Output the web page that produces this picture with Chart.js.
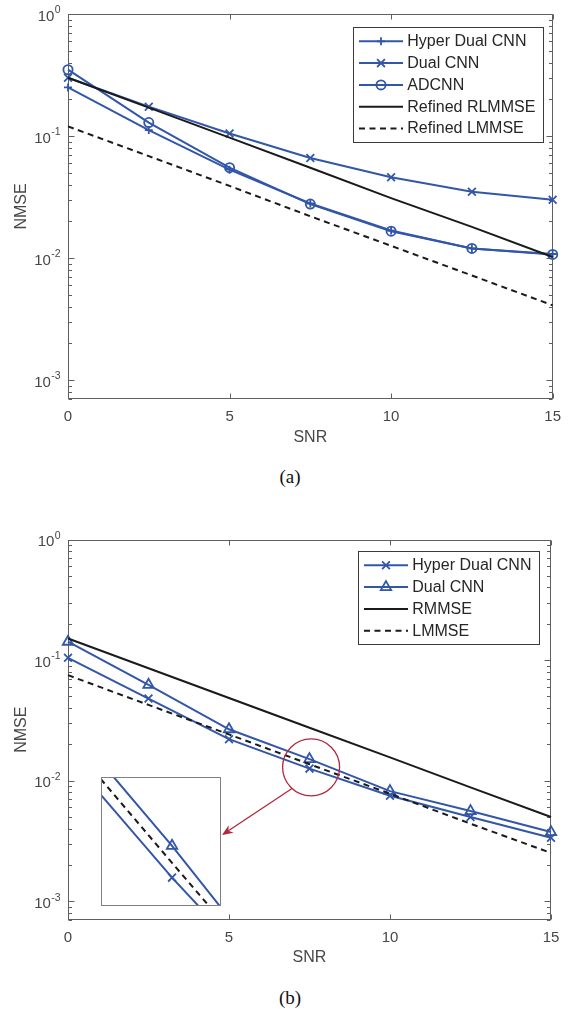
<!DOCTYPE html>
<html lang="en">
<head>
<meta charset="UTF-8">
<title>NMSE vs SNR</title>
<script src="https://cdn.jsdelivr.net/npm/chart.js@4.4.1/dist/chart.umd.min.js"></script>
<style>
    body { margin: 0; background: #fff; width: 570px; height: 1009px; position: relative; overflow: hidden; }
    .box { position: absolute; left: 0; width: 570px; height: 455px; }
    .cap { position: absolute; left: 0; width: 580px; text-align: center; line-height: 20px;
           font-family: "Liberation Serif", "Times New Roman", serif; font-size: 19px; color: #111; }
    #insetBox { position: absolute; left: 101px; top: 777px; width: 120px; height: 129px; background: #fff; }
</style>
</head>
<body>
<div class="box" style="top:0"><canvas id="chartA" width="570" height="455"></canvas></div>
<div class="cap" style="top:467px">(a)</div>
<div class="box" style="top:520px"><canvas id="chartB" width="570" height="455"></canvas></div>
<div id="insetBox"><canvas id="chartInset" width="120" height="129"></canvas></div>
<div class="cap" style="top:988px">(b)</div>

<script>
// ---- data ----
const snr = [0, 2.5, 5, 7.5, 10, 12.5, 15];
const xTicks = [0, 5, 10, 15];
const yTickExps = [0, -1, -2, -3];

// (a)
const hyperA  = [0.25, 0.112, 0.053, 0.028, 0.0168, 0.0120, 0.0108];
const dualA   = [0.30, 0.174, 0.105, 0.066, 0.046, 0.035, 0.030];
const adcnnA  = [0.35, 0.129, 0.055, 0.0277, 0.0166, 0.0120, 0.0107];
const rlmmseA = [0.30, 0.171, 0.097, 0.055, 0.031, 0.018, 0.0102];
const lmmseA  = [0.12, 0.0685, 0.039, 0.022, 0.0126, 0.0072, 0.0041];

// (b)
const hyperB = [0.1045, 0.048, 0.0221, 0.0126, 0.0075, 0.0050, 0.00337];
const dualB  = [0.142, 0.0624, 0.0267, 0.0151, 0.0082, 0.0056, 0.00375];
const rmmseB = [0.151, 0.0856, 0.0485, 0.0275, 0.0156, 0.0088, 0.0050];
const lmmseB = [0.075, 0.0425, 0.0242, 0.0137, 0.0078, 0.0044, 0.00252];

const FONT = 'Arial, "Liberation Sans", Helvetica, sans-serif';
const BLUE = '#3256a8';
const BLACK = '#1a1a1a';
const RED = '#b0283c';
const AXIS = '#5f5f5f';
const TEXT = '#474747';

Chart.defaults.font.family = FONT;

function pts(arr) {
    return snr.map((x, i) => ({x: x, y: arr[i]}));
}

function line(label, arr, color, style, r, dash) {
    return {
        label: label,
        data: pts(arr),
        borderColor: color,
        backgroundColor: color,
        borderWidth: 2,
        borderDash: dash || [],
        pointStyle: style || 'circle',
        pointRadius: r || 0,
        pointHoverRadius: r || 0,
        pointBorderWidth: 1.8,
        pointBorderColor: color,
        pointBackgroundColor: 'rgba(0,0,0,0)',
        tension: 0,
        clip: false
    };
}

function drawMarker(ctx, style, x, y, r, color, lw) {
    ctx.save();
    ctx.strokeStyle = color;
    ctx.lineWidth = lw;
    ctx.beginPath();
    if (style === 'cross') {
        ctx.moveTo(x - r, y); ctx.lineTo(x + r, y);
        ctx.moveTo(x, y - r); ctx.lineTo(x, y + r);
    } else if (style === 'crossRot') {
        const k = r * Math.SQRT1_2;
        ctx.moveTo(x - k, y - k); ctx.lineTo(x + k, y + k);
        ctx.moveTo(x + k, y - k); ctx.lineTo(x - k, y + k);
    } else if (style === 'triangle') {
        ctx.moveTo(x, y - r);
        ctx.lineTo(x + r * Math.sin(2 * Math.PI / 3), y + r / 2);
        ctx.lineTo(x - r * Math.sin(2 * Math.PI / 3), y + r / 2);
        ctx.closePath();
    } else {
        ctx.arc(x, y, r, 0, Math.PI * 2);
    }
    ctx.stroke();
    ctx.restore();
}

// box, inward ticks and 10^k labels, matlab style
const frame = {
    id: 'frame',
    beforeDatasetsDraw(chart) {
        const {ctx, chartArea: a, scales: {x, y}} = chart;
        ctx.save();
        ctx.strokeStyle = AXIS;
        ctx.lineWidth = 1;
        const L = Math.round(a.left) + 0.5, R = Math.round(a.right) - 0.5;
        const T = Math.round(a.top) + 0.5, B = Math.round(a.bottom) - 0.5;
        ctx.strokeRect(L, T, R - L, B - T);
        ctx.beginPath();
        xTicks.forEach(v => {
            const px = Math.round(x.getPixelForValue(v)) + 0.5;
            ctx.moveTo(px, B); ctx.lineTo(px, B - 5);
            ctx.moveTo(px, T); ctx.lineTo(px, T + 5);
        });
        for (let e = -4; e <= 0; e++) {
            for (let m = 1; m <= 9; m++) {
                const v = m * Math.pow(10, e);
                if (v < y.min * 0.999 || v > y.max * 1.001) continue;
                const py = Math.round(y.getPixelForValue(v)) + 0.5;
                const len = m === 1 ? 6 : 3.5;
                ctx.moveTo(L, py); ctx.lineTo(L + len, py);
                ctx.moveTo(R, py); ctx.lineTo(R - len, py);
            }
        }
        ctx.stroke();
        ctx.restore();
    },
    afterDraw(chart) {
        const {ctx, chartArea: a, scales: {y}} = chart;
        ctx.save();
        ctx.fillStyle = TEXT;
        ctx.textAlign = 'right';
        ctx.textBaseline = 'middle';
        yTickExps.forEach(e => {
            const py = y.getPixelForValue(Math.pow(10, e));
            const exp = String(e);
            ctx.font = '10.5px ' + FONT;
            const ew = ctx.measureText(exp).width;
            const right = a.left - 7.5;
            ctx.fillText(exp, right, py - 3.5);
            ctx.font = '15px ' + FONT;
            ctx.fillText('10', right - ew - 0.3, py + 2.5);
        });
        ctx.restore();
    }
};

// legend box inside the plot, top right
const boxLegend = {
    id: 'boxLegend',
    afterDraw(chart, args, opts) {
        const {ctx, chartArea: a} = chart;
        const sets = chart.data.datasets;
        ctx.save();
        ctx.font = '16px ' + FONT;
        const textW = Math.max(...sets.map(d => ctx.measureText(d.label).width));
        const padL = 5.5, sample = 44, gap = 4.3, padR = 8.5, first = 13.8, rowH = 21.8;
        const w = padL + sample + gap + textW + padR;
        const h = first * 2 + rowH * (sets.length - 1);
        const x0 = Math.round(a.right - opts.right - w) + 0.5;
        const y0 = Math.round(a.top + opts.top) + 0.5;
        ctx.fillStyle = '#fff';
        ctx.fillRect(x0, y0, w, h);
        ctx.strokeStyle = '#3a3a3a';
        ctx.lineWidth = 1;
        ctx.strokeRect(x0, y0, Math.round(w), Math.round(h));
        sets.forEach((d, i) => {
            const cy = y0 + first + i * rowH;
            ctx.strokeStyle = d.borderColor;
            ctx.lineWidth = d.borderWidth;
            ctx.setLineDash(d.borderDash);
            ctx.beginPath();
            ctx.moveTo(x0 + padL, cy);
            ctx.lineTo(x0 + padL + sample, cy);
            ctx.stroke();
            ctx.setLineDash([]);
            if (d.pointRadius > 0) {
                drawMarker(ctx, d.pointStyle, x0 + padL + sample / 2, cy, d.pointRadius, d.borderColor, d.pointBorderWidth);
            }
            ctx.fillStyle = '#262626';
            ctx.textAlign = 'left';
            ctx.textBaseline = 'middle';
            ctx.fillText(d.label, x0 + padL + sample + gap, cy + 0.5);
        });
        ctx.restore();
    }
};

// red circle + arrow pointing to the inset
const zoomMark = {
    id: 'zoomMark',
    afterDatasetsDraw(chart, args, opts) {
        if (!opts || opts.r === undefined) return;
        const {ctx, scales: {x, y}} = chart;
        const cx = x.getPixelForValue(opts.x), cy = y.getPixelForValue(opts.y);
        ctx.save();
        ctx.strokeStyle = RED;
        ctx.fillStyle = RED;
        ctx.lineWidth = 1.3;
        ctx.beginPath();
        ctx.arc(cx, cy, opts.r, 0, Math.PI * 2);
        ctx.stroke();
        const ang = opts.startAngle * Math.PI / 180;
        const sx = cx + opts.r * Math.cos(ang), sy = cy + opts.r * Math.sin(ang);
        const tx = opts.tipX, ty = opts.tipY;
        const dx = tx - sx, dy = ty - sy, len = Math.hypot(dx, dy);
        const ux = dx / len, uy = dy / len, nx = -uy, ny = ux;
        const hl = 11, hw = 4.5;
        ctx.beginPath();
        ctx.moveTo(sx, sy);
        ctx.lineTo(tx - ux * hl * 0.7, ty - uy * hl * 0.7);
        ctx.stroke();
        ctx.beginPath();
        ctx.moveTo(tx, ty);
        ctx.lineTo(tx - ux * hl + nx * hw, ty - uy * hl + ny * hw);
        ctx.lineTo(tx - ux * hl * 0.7, ty - uy * hl * 0.7);
        ctx.lineTo(tx - ux * hl - nx * hw, ty - uy * hl - ny * hw);
        ctx.closePath();
        ctx.fill();
        ctx.restore();
    }
};

function mainOptions(padTop, padRight, xHeight, legendTop, legendRight, mark) {
    return {
        responsive: false,
        animation: false,
        devicePixelRatio: 1,
        layout: {autoPadding: false, padding: {top: padTop, right: padRight, left: 0, bottom: 0}},
        scales: {
            x: {
                type: 'linear', min: 0, max: 15,
                afterBuildTicks: s => { s.ticks = xTicks.map(v => ({value: v})); },
                afterFit: s => { s.height = xHeight; },
                grid: {display: false, drawTicks: false},
                border: {display: false},
                ticks: {color: TEXT, font: {size: 15}, padding: 9, maxRotation: 0},
                title: {display: true, text: 'SNR', color: TEXT, font: {size: 16}, padding: {top: 0, bottom: 8}}
            },
            y: {
                type: 'logarithmic', min: 0.0007, max: 1,
                afterFit: s => { s.width = 68; },
                grid: {display: false},
                border: {display: false},
                ticks: {display: false},
                title: {display: true, text: 'NMSE', color: TEXT, font: {size: 16}, padding: {top: 11.5, bottom: 0}}
            }
        },
        plugins: {
            legend: {display: false},
            tooltip: {enabled: false},
            boxLegend: {top: legendTop, right: legendRight},
            zoomMark: mark || {}
        }
    };
}

function withOrder(sets) {
    sets.forEach((d, i) => { d.order = sets.length - i; });
    return sets;
}

new Chart(document.getElementById('chartA'), {
    type: 'line',
    data: {
        datasets: withOrder([
            line('Hyper Dual CNN', hyperA, BLUE, 'cross', 4),
            line('Dual CNN', dualA, BLUE, 'crossRot', 5.5),
            line('ADCNN', adcnnA, BLUE, 'circle', 4.6),
            line('Refined RLMMSE', rlmmseA, BLACK),
            line('Refined LMMSE', lmmseA, BLACK, null, 0, [6, 4.5])
        ])
    },
    options: mainOptions(14, 14, 56, 12.5, 9.5),
    plugins: [frame, boxLegend]
});

const INSET = {left: 101, top: 777, w: 120, h: 129};
const CHART_B_TOP = 520;

new Chart(document.getElementById('chartB'), {
    type: 'line',
    data: {
        datasets: withOrder([
            line('Hyper Dual CNN', hyperB, BLUE, 'crossRot', 5.5),
            line('Dual CNN', dualB, BLUE, 'triangle', 6),
            line('RMMSE', rmmseB, BLACK),
            line('LMMSE', lmmseB, BLACK, null, 0, [6, 4.5])
        ])
    },
    options: mainOptions(19.5, 19, 55, 11.5, 11.2, {
        x: 7.55, y: 0.0129, r: 28.5, startAngle: 132,
        tipX: INSET.left + INSET.w + 1, tipY: INSET.top + 58 - CHART_B_TOP
    }),
    plugins: [frame, boxLegend, zoomMark]
});

// zoomed inset around SNR = 7.5
const insetBorder = {
    id: 'insetBorder',
    afterDraw(chart) {
        const {ctx, width, height} = chart;
        ctx.save();
        ctx.strokeStyle = '#808080';
        ctx.lineWidth = 1;
        ctx.strokeRect(0.5, 0.5, width - 1, height - 1);
        ctx.restore();
    }
};

function insetLine(d) {
    const c = Object.assign({}, d);
    c.clip = 0;
    return c;
}

new Chart(document.getElementById('chartInset'), {
    type: 'line',
    data: {
        datasets: withOrder([
            insetLine(line('Hyper Dual CNN', hyperB, BLUE, 'crossRot', 5.5)),
            insetLine(line('Dual CNN', dualB, BLUE, 'triangle', 6)),
            insetLine(line('LMMSE', lmmseB, BLACK, null, 0, [6, 4.5]))
        ])
    },
    options: {
        responsive: false,
        animation: false,
        devicePixelRatio: 1,
        layout: {autoPadding: false, padding: 0},
        scales: {
            x: {type: 'linear', display: false, min: 5.41, max: 8.94},
            y: {type: 'logarithmic', display: false, min: 0.01072, max: 0.02234}
        },
        plugins: {legend: {display: false}, tooltip: {enabled: false}}
    },
    plugins: [insetBorder]
});
</script>
</body>
</html>
